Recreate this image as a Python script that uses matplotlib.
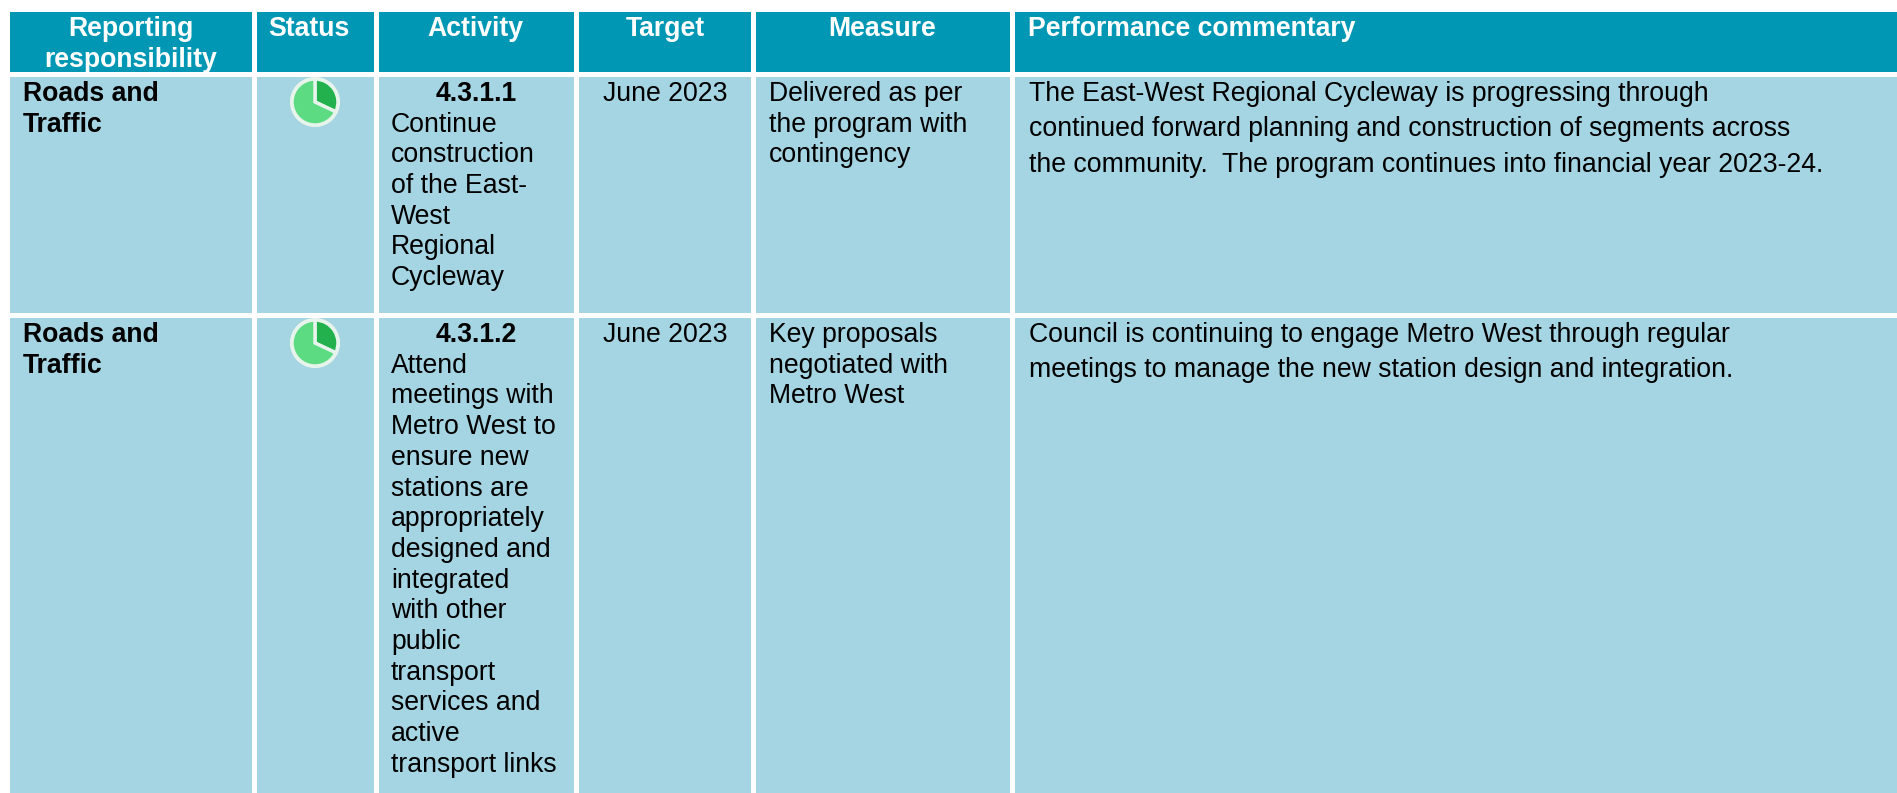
import matplotlib
matplotlib.use("Agg")
import matplotlib.pyplot as plt
from matplotlib.patches import Rectangle, Circle

# table content
headers = ["Reporting\nresponsibility", "Status", "Activity", "Target", "Measure", "Performance commentary"]
responsibility = ["Roads and\nTraffic", "Roads and\nTraffic"]
status_done = [0.68, 0.68]
status_left = [0.32, 0.32]
activity_ids = ["4.3.1.1", "4.3.1.2"]
activity_text = [
	"Continue\nconstruction\nof the East-\nWest\nRegional\nCycleway",
	"Attend\nmeetings with\nMetro West to\nensure new\nstations are\nappropriately\ndesigned and\nintegrated\nwith other\npublic\ntransport\nservices and\nactive\ntransport links",
]
targets = ["June 2023", "June 2023"]
measures = [
	"Delivered as per\nthe program with\ncontingency",
	"Key proposals\nnegotiated with\nMetro West",
]
commentary = [
	"The East-West Regional Cycleway is progressing through\ncontinued forward planning and construction of segments across\nthe community.  The program continues into financial year 2023-24.",
	"Council is continuing to engage Metro West through regular\nmeetings to manage the new station design and integration.",
]

# layout in image pixels
W, H = 1897, 793
col_edges = [(10, 252), (257, 374), (379, 574), (579, 751), (756, 1010), (1015, 1897)]
header_nudge = [0, -7, -1, 0, -1, 0]
header_band = (12, 72)
row_bands = [(77, 313), (318, 793)]
line_px = 30.7
font_px = 26.6

header_col = "#0097B5"
cell_col = "#A5D5E2"
dark_green = "#22B14C"
light_green = "#5CDB82"
ring_col = "#E6F4EC"

plt.rcParams['font.family'] = ['Liberation Sans', 'DejaVu Sans']

fig = plt.figure(figsize=(W/100, H/100), dpi=100)
ax = fig.add_axes([0, 0, 1, 1])
fs = font_px*72/100


def put_lines(x, y, txt, ha="left", color="black", weight="normal", step=line_px):
	# one text per line so the spacing follows the reference
	for i, line in enumerate(txt.split("\n")):
		ax.text(x, y + i*step, line, ha=ha, va="baseline", color=color, fontweight=weight, fontsize=fs)


for (x0, x1) in col_edges:
	ax.add_patch(Rectangle((x0, header_band[0]), x1-x0, header_band[1]-header_band[0], color=header_col, lw=0))
	for (y0, y1) in row_bands:
		ax.add_patch(Rectangle((x0, y0), x1-x0, y1-y0, color=cell_col, lw=0))

# headers
for k, head in enumerate(headers):
	x0, x1 = col_edges[k]
	if k == 5:
		put_lines(x0+13, 36, head, color="white", weight="bold")
	else:
		put_lines((x0+x1)/2 + header_nudge[k], 36, head, ha="center", color="white", weight="bold")

# rows
for r, (y0, y1) in enumerate(row_bands):
	base = y0 + 24
	put_lines(col_edges[0][0]+13, base, responsibility[r], weight="bold")
	put_lines((col_edges[2][0]+col_edges[2][1])/2, base, activity_ids[r], ha="center", weight="bold")
	put_lines(col_edges[2][0]+12, base+line_px, activity_text[r])
	put_lines((col_edges[3][0]+col_edges[3][1])/2, base, targets[r], ha="center")
	put_lines(col_edges[4][0]+13, base, measures[r])
	put_lines(col_edges[5][0]+14, base, commentary[r], step=35.4)

	# status pie, y axis is flipped so angles run the other way
	centre = (315, y0+25)
	ax.add_patch(Circle(centre, 25, color=ring_col, lw=0, zorder=3))
	ax.pie([status_left[r], status_done[r]], colors=[dark_green, light_green], startangle=-90, counterclock=True,
		center=centre, radius=23, frame=True, wedgeprops=dict(edgecolor=ring_col, linewidth=2.5, zorder=4))

ax.set_xlim(0, W)
ax.set_ylim(H, 0)
ax.set_aspect("auto")
ax.axis("off")
fig.savefig("out.png", dpi=100, facecolor="white")
